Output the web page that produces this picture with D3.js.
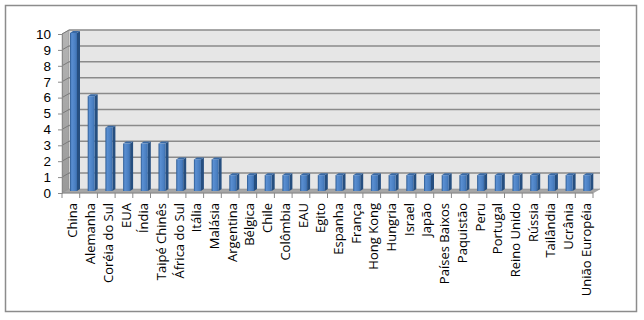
<!DOCTYPE html>
<html>
<head>
<meta charset="utf-8">
<script src="https://cdn.jsdelivr.net/npm/d3@7"></script>
<style>
  body { margin: 0; background: #fff; }
  text { font-family: 'Open Sans', sans-serif; fill: #000; }
</style>
</head>
<body>
<div id="chart"></div>
<script>
const categories = ['China', 'Alemanha', 'Coréia do Sul', 'EUA', 'Índia', 'Taipé Chinês', 'África do Sul',
  'Itália', 'Malásia', 'Argentina', 'Bélgica', 'Chile', 'Colômbia', 'EAU', 'Egito', 'Espanha', 'França',
  'Hong Kong', 'Hungria', 'Israel', 'Japão', 'Países Baixos', 'Paquistão', 'Peru', 'Portugal',
  'Reino Unido', 'Rússia', 'Tailândia', 'Ucrânia', 'União Européia']
const values = [10, 6, 4, 3, 3, 3, 2, 2, 2, 1, 1, 1, 1, 1, 1, 1, 1, 1, 1, 1, 1, 1, 1, 1, 1, 1, 1, 1, 1, 1]
const yTicks = [0, 1, 2, 3, 4, 5, 6, 7, 8, 9, 10]

const width = 644
const height = 320

// front plane of the 3d box, and the depth offset of the back wall
const plotLeft = 62, plotRight = 593, plotBottom = 193, plotTop = 34
const depthX = 7, depthY = -4

const svg = d3.select('#chart')
  .append('svg')
  .attr('width', width)
  .attr('height', height)

const defs = svg.append('defs')
const grad = defs.append('linearGradient').attr('id', 'barFront')
grad.append('stop').attr('offset', '0%').attr('stop-color', '#2b5990')
grad.append('stop').attr('offset', '25%').attr('stop-color', '#5a8fd2')
grad.append('stop').attr('offset', '75%').attr('stop-color', '#4a7fc1')
grad.append('stop').attr('offset', '100%').attr('stop-color', '#3a6cab')

const sideGrad = defs.append('linearGradient').attr('id', 'sideWall')
  .attr('x1', 0).attr('x2', 0).attr('y1', 0).attr('y2', 1)
sideGrad.append('stop').attr('offset', '0%').attr('stop-color', '#b4b4b4')
sideGrad.append('stop').attr('offset', '100%').attr('stop-color', '#9a9a9a')

// outer frame
svg.append('rect')
  .attr('x', 5.5).attr('y', 5.5)
  .attr('width', 631).attr('height', 306)
  .attr('fill', '#fff')
  .attr('stroke', '#8c8c8c')
  .attr('stroke-width', 1.5)

const x = d3.scaleBand().domain(categories).range([plotLeft, plotRight])
const y = d3.scaleLinear().domain([0, 10]).range([plotBottom, plotTop])

// back wall
svg.append('rect')
  .attr('x', plotLeft + depthX).attr('y', plotTop + depthY)
  .attr('width', plotRight - plotLeft).attr('height', plotBottom - plotTop)
  .attr('fill', '#e6e6e6')

// gridlines on the back wall
svg.append('g')
  .selectAll('line')
  .data(yTicks.slice(1))
  .join('line')
  .attr('x1', plotLeft + depthX).attr('x2', plotRight + depthX)
  .attr('y1', d => y(d) + depthY).attr('y2', d => y(d) + depthY)
  .attr('stroke', '#8a8a8a')
  .attr('stroke-width', 1.5)

// side wall
svg.append('path')
  .attr('d', `M${plotLeft},${plotTop} L${plotLeft + depthX},${plotTop + depthY} L${plotLeft + depthX},${plotBottom + depthY} L${plotLeft},${plotBottom} Z`)
  .attr('fill', 'url(#sideWall)')
  .attr('stroke', '#8a8a8a')
  .attr('stroke-width', 0.5)

// side wall gridlines
svg.append('g')
  .selectAll('line')
  .data(yTicks.slice(1))
  .join('line')
  .attr('x1', plotLeft).attr('x2', plotLeft + depthX)
  .attr('y1', d => y(d)).attr('y2', d => y(d) + depthY)
  .attr('stroke', '#7a7a7a')
  .attr('stroke-width', 1)

// floor
svg.append('path')
  .attr('d', `M${plotLeft},${plotBottom} L${plotLeft + depthX},${plotBottom + depthY} L${plotRight + depthX},${plotBottom + depthY} L${plotRight},${plotBottom} Z`)
  .attr('fill', '#a6a6a6')
  .attr('stroke', '#8a8a8a')
  .attr('stroke-width', 0.5)

// bars
const bw = x.bandwidth()
const faceW = 7, sideW = 3, sideH = 2
const barOffset = 8
const barBase = plotBottom - 2
const yBar = d3.scaleLinear().domain([0, 10]).range([barBase, plotTop - 1])

const bars = svg.append('g')
  .selectAll('g')
  .data(categories)
  .join('g')

bars.append('path')
  .attr('d', (c, i) => {
    const x0 = x(c) + barOffset + faceW
    const yt = yBar(values[i])
    return `M${x0},${yt} L${x0 + sideW},${yt - sideH} L${x0 + sideW},${barBase - sideH} L${x0},${barBase} Z`
  })
  .attr('fill', '#264f80')

bars.append('path')
  .attr('d', (c, i) => {
    const x0 = x(c) + barOffset
    const yt = yBar(values[i])
    return `M${x0},${yt} L${x0 + sideW},${yt - sideH} L${x0 + faceW + sideW},${yt - sideH} L${x0 + faceW},${yt} Z`
  })
  .attr('fill', '#3a6aa5')

bars.append('rect')
  .attr('x', c => x(c) + barOffset)
  .attr('y', (c, i) => yBar(values[i]))
  .attr('width', faceW)
  .attr('height', (c, i) => barBase - yBar(values[i]))
  .attr('fill', 'url(#barFront)')

// y axis
const yAxis = svg.append('g')
  .attr('transform', `translate(${plotLeft},0)`)
  .call(d3.axisLeft(y).tickValues(yTicks).tickSize(4).tickPadding(7))
yAxis.select('.domain').attr('stroke', '#8a8a8a')
yAxis.selectAll('.tick line').attr('stroke', '#8a8a8a')
yAxis.selectAll('text')
  .style('font-size', '13.5px')
  .style('font-family', "'Liberation Sans', sans-serif")
  .attr('fill', '#000')

// x axis
const xAxis = svg.append('g')
  .attr('transform', `translate(0,${plotBottom})`)
xAxis.append('line')
  .attr('x1', plotLeft).attr('x2', plotRight)
  .attr('stroke', '#8a8a8a')
xAxis.selectAll('.tk')
  .data(categories.concat(['end']))
  .join('line')
  .attr('class', 'tk')
  .attr('x1', c => c === 'end' ? plotRight : x(c))
  .attr('x2', c => c === 'end' ? plotRight : x(c))
  .attr('y1', 0).attr('y2', 5)
  .attr('stroke', '#8a8a8a')

xAxis.selectAll('text')
  .data(categories)
  .join('text')
  .attr('transform', c => `translate(${x(c) + bw / 2 + 2},10) rotate(-90)`)
  .attr('dy', '0.35em')
  .attr('text-anchor', 'end')
  .style('font-size', '13px')
  .text(c => c)
</script>
</body>
</html>
